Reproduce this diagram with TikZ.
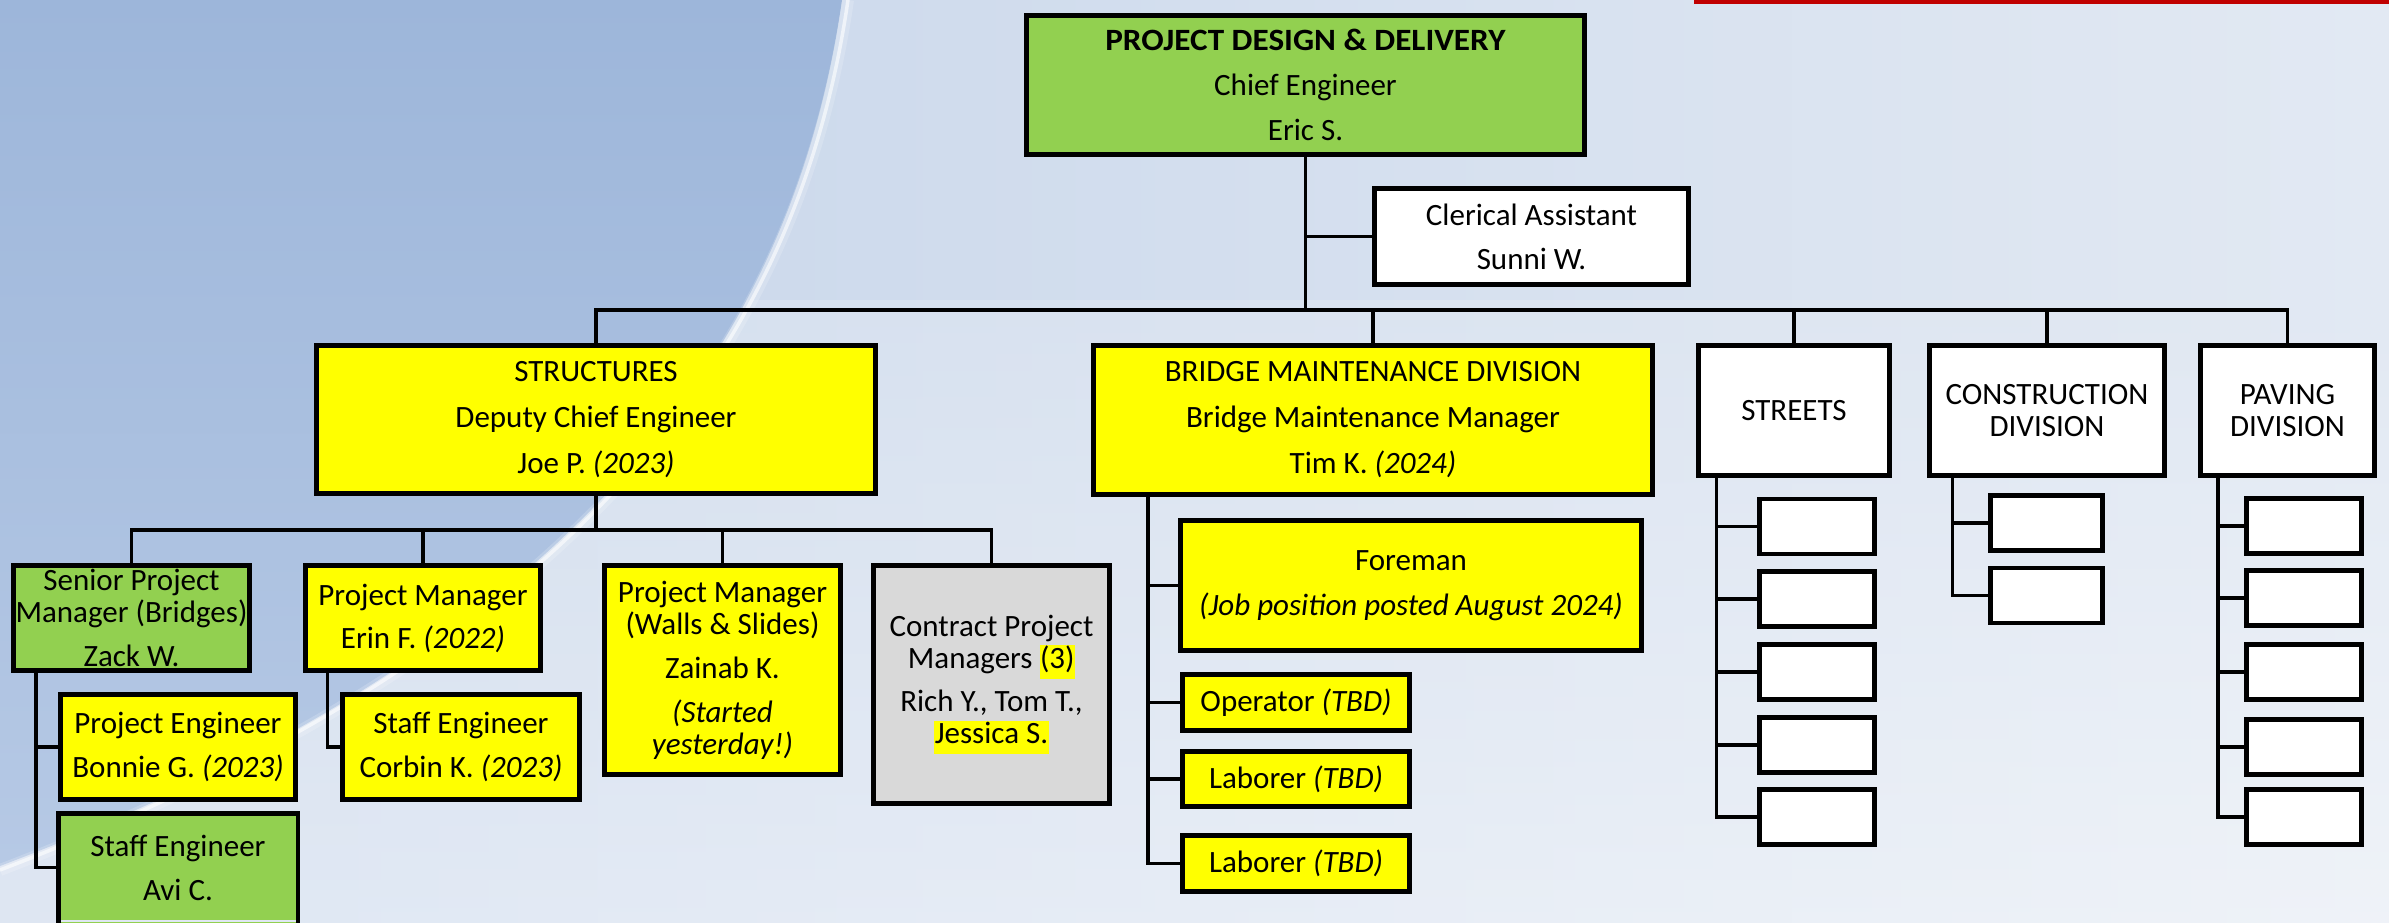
\documentclass[tikz,border=0pt]{standalone}
\usepackage{graphicx}
\usepackage{fontspec}
\setmainfont{Carlito}
\definecolor{gfill}{HTML}{92D050}
\definecolor{yfill}{HTML}{FFFF00}
\definecolor{cfill}{HTML}{D9D9D9}
\definecolor{bgA}{HTML}{C4D3E9}
\definecolor{bgB}{HTML}{E2E9F3}
\definecolor{bgBlueTop}{HTML}{9DB6DA}
\definecolor{bgBlueBot}{HTML}{B6C9E5}
\definecolor{redline}{HTML}{C00000}
\newcommand{\hlt}[1]{{\setlength{\fboxsep}{0.5pt}\colorbox{yfill}{\strut #1}}}
\begin{document}
\begin{tikzpicture}[x=1pt,y=-1pt,
  orgbox/.style={draw=black,line width=4.5pt,inner sep=0pt,align=center,
    font=\fontsize{31}{32}\selectfont},
  conn/.style={draw=black,line width=3.5pt}]
\useasboundingbox (0,0) rectangle (2389,922);
\clip (0,0) rectangle (2389,922);
% background
\shade[left color=bgA,right color=bgB] (0,0) rectangle (2389,922);
\shade[top color=bgB,bottom color=white,opacity=0.45] (0,300) rectangle (2389,922);
\shade[top color=bgBlueTop,bottom color=bgBlueBot] (0,0) -- (842,0) .. controls (795,330) and (595,640) .. (0,866) -- cycle;
\draw[white,opacity=0.18,line width=12pt] (848,0) .. controls (800,330) and (600,640) .. (0,870);
\draw[white,opacity=0.6,line width=3.5pt] (848,0) .. controls (800,330) and (600,640) .. (0,870);
\fill[redline] (1694,0) rectangle (2389,3.5);

% level 0 and 1
\node[orgbox,fill=gfill,minimum width=558pt,minimum height=139pt] (top) at (1305.5,85)
  {\scalebox{1.07}[1]{\textbf{PROJECT DESIGN \& DELIVERY}}\\[13pt]Chief Engineer\\[13pt]Eric S.};
\node[orgbox,fill=white,minimum width=314pt,minimum height=96pt] (clerical) at (1531.5,236.5)
  {Clerical Assistant\\[12pt]Sunni W.};
\node[orgbox,fill=yfill,minimum width=559pt,minimum height=148pt] (structures) at (596,419.5)
  {STRUCTURES\\[14pt]Deputy Chief Engineer\\[14pt]Joe P. \textit{(2023)}};
\node[orgbox,fill=yfill,minimum width=559pt,minimum height=149pt] (bridge) at (1373,420)
  {BRIDGE MAINTENANCE DIVISION\\[14pt]Bridge Maintenance Manager\\[14pt]Tim K. \textit{(2024)}};
\node[orgbox,fill=white,minimum width=191pt,minimum height=130pt] (streets) at (1794,410.5) {STREETS};
\node[orgbox,fill=white,minimum width=235pt,minimum height=130pt] (construction) at (2047,410.5) {CONSTRUCTION\\DIVISION};
\node[orgbox,fill=white,minimum width=174pt,minimum height=130pt] (paving) at (2287.5,410.5) {PAVING\\DIVISION};

% structures children
\node[orgbox,fill=gfill,minimum width=236pt,minimum height=105pt] (seniorPM) at (131.5,618)
  {Senior Project\\Manager (Bridges)\\[12pt]Zack W.};
\node[orgbox,fill=yfill,minimum width=235pt,minimum height=105pt] (erin) at (423,618)
  {Project Manager\\[11pt]Erin F. \textit{(2022)}};
\node[orgbox,fill=yfill,minimum width=236pt,minimum height=209pt] (walls) at (722.5,670)
  {Project Manager\\(Walls \& Slides)\\[12pt]Zainab K.\\[12pt]\textit{(Started}\\\textit{yesterday!)}};
\node[orgbox,fill=cfill,minimum width=236pt,minimum height=238pt] (contract) at (991.5,684.5)
  {Contract Project\\Managers \hlt{(3)}\\[11pt]Rich Y., Tom T.,\\\hlt{Jessica S.}};
\node[orgbox,fill=yfill,minimum width=235pt,minimum height=105pt] (bonnie) at (178,747)
  {Project Engineer\\[12pt]Bonnie G. \textit{(2023)}};
\node[orgbox,draw=none,fill=gfill,minimum width=235pt,minimum height=104pt] (avi) at (178,867.5)
  {Staff Engineer\\[12pt]Avi C.};
\fill[gfill] (avi.south west) rectangle ([yshift=-8pt]avi.south east);
\draw[line width=4.5pt] ([yshift=-10pt]avi.south west) -- (avi.north west) -- (avi.north east) -- ([yshift=-10pt]avi.south east);
\node[orgbox,fill=yfill,minimum width=237pt,minimum height=105pt] (corbin) at (461,747)
  {Staff Engineer\\[12pt]Corbin K. \textit{(2023)}};

% bridge children
\node[orgbox,fill=yfill,minimum width=461pt,minimum height=130pt] (foreman) at (1411,585.5)
  {Foreman\\[13pt]\textit{(Job position posted August 2024)}};
\node[orgbox,fill=yfill,minimum width=227pt,minimum height=56pt] (operator) at (1296,702.5)
  {Operator \textit{(TBD)}};
\node[orgbox,fill=yfill,minimum width=227pt,minimum height=55pt] (laborerA) at (1296,779)
  {Laborer \textit{(TBD)}};
\node[orgbox,fill=yfill,minimum width=227pt,minimum height=56pt] (laborerB) at (1296,863.5)
  {Laborer \textit{(TBD)}};

% empty boxes
\foreach \i/\cy in {1/526.5,2/599,3/672,4/745,5/817}
  \node[orgbox,fill=white,minimum width=115pt,minimum height=55pt] (st\i) at (1817,\cy) {};
\foreach \i/\cy in {1/523,2/595.5}
  \node[orgbox,fill=white,minimum width=112pt,minimum height=55pt] (co\i) at (2046.5,\cy) {};
\foreach \i/\cy in {1/526,2/598,3/672,4/747,5/817}
  \node[orgbox,fill=white,minimum width=115pt,minimum height=55pt] (pa\i) at (2304,\cy) {};

% connectors: top level
\coordinate (busY) at (0,310);
\draw[conn] (top.south) -- (top.south |- busY);
\draw[conn] (clerical.west) -- (clerical.west -| top.south);
\draw[conn] (structures.north) -- (structures.north |- busY) -- (paving.north |- busY) -- (paving.north);
\draw[conn] (bridge.north) -- (bridge.north |- busY);
\draw[conn] (streets.north) -- (streets.north |- busY);
\draw[conn] (construction.north) -- (construction.north |- busY);

% structures sub-bus
\coordinate (sbY) at (0,530);
\draw[conn] (structures.south) -- (structures.south |- sbY);
\draw[conn] (seniorPM.north) -- (seniorPM.north |- sbY) -- (contract.north |- sbY) -- (contract.north);
\draw[conn] (erin.north) -- (erin.north |- sbY);
\draw[conn] (walls.north) -- (walls.north |- sbY);

% spines
\coordinate (sA) at (36,0);
\draw[conn] (seniorPM.south -| sA) |- (bonnie.west);
\draw[conn] (seniorPM.south -| sA) |- (avi.west);
\coordinate (sB) at (327.5,0);
\draw[conn] (erin.south -| sB) |- (corbin.west);
\coordinate (sC) at (1148,0);
\draw[conn] (bridge.south -| sC) |- (laborerB.west);
\draw[conn] (foreman.west) -- (foreman.west -| sC);
\draw[conn] (operator.west) -- (operator.west -| sC);
\draw[conn] (laborerA.west) -- (laborerA.west -| sC);
\coordinate (sD) at (1716.5,0);
\draw[conn] (streets.south -| sD) |- (st5.west);
\foreach \i in {1,...,4} \draw[conn] (st\i.west) -- (st\i.west -| sD);
\coordinate (sE) at (1952.5,0);
\draw[conn] (construction.south -| sE) |- (co2.west);
\draw[conn] (co1.west) -- (co1.west -| sE);
\coordinate (sF) at (2218,0);
\draw[conn] (paving.south -| sF) |- (pa5.west);
\foreach \i in {1,...,4} \draw[conn] (pa\i.west) -- (pa\i.west -| sF);
\end{tikzpicture}
\end{document}
